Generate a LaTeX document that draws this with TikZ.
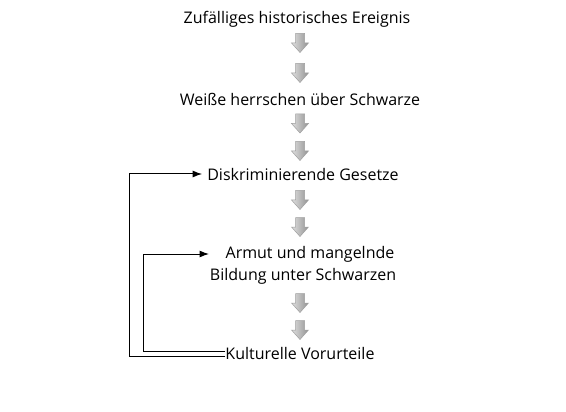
\documentclass[tikz,border=0pt]{standalone}
\usepackage{fontspec}
\setmainfont{Open Sans}
\usetikzlibrary{arrows.meta}
\begin{document}
\begin{tikzpicture}[x=1pt,y=-1pt,
  lbl/.style={font=\fontsize{16}{22}\selectfont, inner sep=0pt, align=center},
  conn/.style={draw=black, line width=1pt},
  tip/.style={-{Latex[length=9.5pt,width=7pt]}}]
\useasboundingbox (0,0) rectangle (566,412);
\newcommand{\blockarrow}[2]{%
  \shade[left color=gray!25, right color=gray!85, draw=gray!75, line width=0.5pt]
    (#1-4.5,#2-9.5) -- (#1+4.5,#2-9.5) -- (#1+4.5,#2) -- (#1+8.5,#2) -- (#1,#2+9.5)
    -- (#1-8.5,#2) -- (#1-4.5,#2) -- cycle;}
\node[lbl] (a) at (297,19) {Zufälliges historisches Ereignis};
\node[lbl] (b) at (300,99) {Weiße herrschen über Schwarze};
\node[lbl] (c) at (303,174) {Diskriminierende Gesetze};
\node[lbl] (d) at (303,265) {\hspace*{14pt}Armut und mangelnde\\Bildung unter Schwarzen};
\node[lbl] (e) at (300,353) {Kulturelle Vorurteile};
\blockarrow{300}{43}
\blockarrow{300}{73}
\blockarrow{300}{123.5}
\blockarrow{300}{151}
\blockarrow{300}{200}
\blockarrow{300}{227}
\blockarrow{300}{303}
\blockarrow{300}{330}
\coordinate (o1) at (129,356);
\coordinate (o2) at (129,174);
\coordinate (i1) at (143,351.5);
\coordinate (i2) at (143,254);
\coordinate (i3) at (209,254);
\draw[conn,tip] (e.west |- o1) -- (o1) -- (o2) -- ([xshift=-5pt]c.west |- o2);
\draw[conn,tip] (e.west |- i1) -- (i1) -- (i2) -- (i3);
\end{tikzpicture}
\end{document}
